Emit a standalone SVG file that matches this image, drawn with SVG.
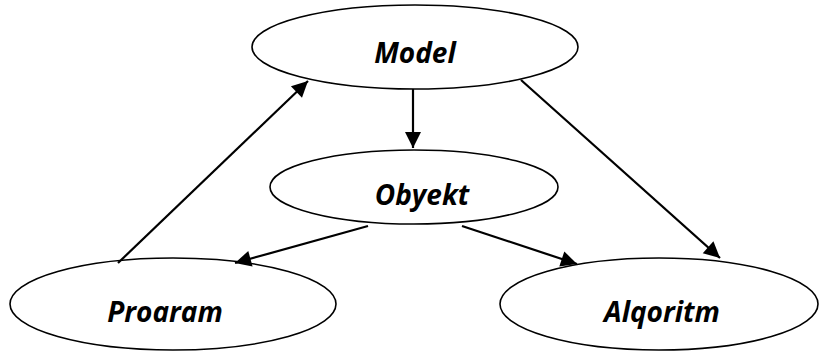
<svg xmlns="http://www.w3.org/2000/svg" width="819" height="352" viewBox="0 0 819 352">
<style>
.n{fill:#fff;stroke:#000;stroke-width:1.6}
.t{font-family:"Open Sans","Liberation Sans",sans-serif;font-weight:bold;font-style:italic;font-size:28px;fill:#000;text-anchor:middle}
.c{stroke:#000;stroke-width:2.2;fill:none;marker-end:url(#ah)}
</style>
<defs>
<marker id="ah" viewBox="0 0 10 10" refX="10" refY="5" markerWidth="8" markerHeight="8" markerUnits="userSpaceOnUse" orient="auto" style="overflow:visible">
<path d="M0,0 L10,5 L0,10 z" fill="#000" transform="scale(2) translate(-5,-2.5)"/>
</marker>
</defs>
<rect width="819" height="352" fill="#fff"/>
<g id="model"><ellipse class="n" cx="415" cy="47" rx="163" ry="42"/><text class="t" x="415" y="63">Model</text></g>
<g id="obyekt"><ellipse class="n" cx="414" cy="187" rx="144" ry="37"/><text class="t" x="422" y="205">Obyekt</text></g>
<g id="proqram"><ellipse class="n" cx="173" cy="304" rx="163" ry="46"/><text class="t" x="165" y="322">Proaram</text></g>
<g id="alqoritm"><ellipse class="n" cx="659" cy="304" rx="159" ry="46"/><text class="t" x="662" y="322">Alqoritm</text></g>
<g id="connectors">
<line class="c" x1="118" y1="263" x2="308" y2="81"/>
<line class="c" x1="413" y1="89" x2="413" y2="148"/>
<line class="c" x1="521" y1="80" x2="720" y2="258"/>
<line class="c" x1="368" y1="226" x2="235" y2="263"/>
<line class="c" x1="462" y1="226" x2="577" y2="264"/>
</g>
</svg>
